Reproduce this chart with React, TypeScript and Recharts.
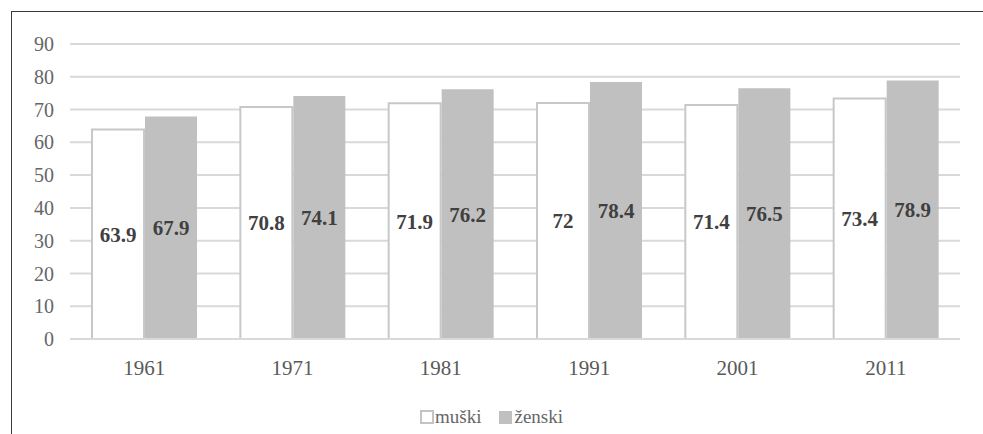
import { BarChart, Bar, XAxis, YAxis, CartesianGrid, Legend, LabelList } from 'recharts'

const years = ['1961', '1971', '1981', '1991', '2001', '2011']
const muski = [63.9, 70.8, 71.9, 72, 71.4, 73.4]
const zenski = [67.9, 74.1, 76.2, 78.4, 76.5, 78.9]
const yTicks = [0, 10, 20, 30, 40, 50, 60, 70, 80, 90]

const data = years.map((year, i) => ({ year, muski: muski[i], zenski: zenski[i] }))

const FONT = 'Liberation Serif'

const labelStyle = { fontFamily: FONT, fontSize: 21, fontWeight: 'bold', fill: '#404040' }

function LegendBox() {
  return (
    <div style={{ display: 'flex', justifyContent: 'center', gap: 18, fontFamily: FONT, fontSize: 19, color: '#666' }}>
      <span style={{ display: 'flex', alignItems: 'center' }}>
        <span style={{ width: 10, height: 10, border: '2px solid #c4c4c4', background: '#fff', marginRight: 1 }} />
        muški
      </span>
      <span style={{ display: 'flex', alignItems: 'center' }}>
        <span style={{ width: 13, height: 13, background: '#c0c0c0', marginRight: 2 }} />
        ženski
      </span>
    </div>
  )
}

export default function App() {
  return (
    <div style={{ position: 'absolute', left: 0, top: 0, width: 983, height: 434, background: '#fff', fontFamily: FONT }}>
      <div style={{ position: 'absolute', left: 11, top: 11, right: 0, bottom: 0, borderTop: '1.5px solid #3a3a3a', borderLeft: '1.5px solid #3a3a3a' }} />
      <BarChart
        width={983}
        height={434}
        data={data}
        margin={{ top: 44, right: 23, bottom: 55, left: 10 }}
        barSize={52}
        barGap={1}
        style={{ position: 'absolute', left: 0, top: 0, fontFamily: FONT }}
      >
        <CartesianGrid vertical={false} stroke="#d9d9d9" strokeWidth={2} />
        <XAxis
          dataKey="year"
          axisLine={{ stroke: '#d9d9d9', strokeWidth: 2 }}
          tickLine={false}
          height={40}
          tick={{ fontFamily: FONT, fontSize: 21, fill: '#595959' }}
          tickMargin={15}
        />
        <YAxis
          domain={[0, 90]}
          ticks={yTicks}
          width={60}
          axisLine={false}
          tickLine={false}
          tick={{ fontFamily: FONT, fontSize: 20, fill: '#666' }}
          tickMargin={10}
        />
        <Legend
          layout="vertical"
          align="center"
          verticalAlign="middle"
          wrapperStyle={{ top: 406, left: 0, width: 983 }}
          content={() => <LegendBox />}
        />
        <Bar dataKey="muski" name="muški" fill="#fff" stroke="#c8c8c8" strokeWidth={2} isAnimationActive={false}>
          <LabelList dataKey="muski" position="center" style={labelStyle} />
        </Bar>
        <Bar dataKey="zenski" name="ženski" fill="#c0c0c0" isAnimationActive={false}>
          <LabelList dataKey="zenski" position="center" style={labelStyle} />
        </Bar>
      </BarChart>
    </div>
  )
}
